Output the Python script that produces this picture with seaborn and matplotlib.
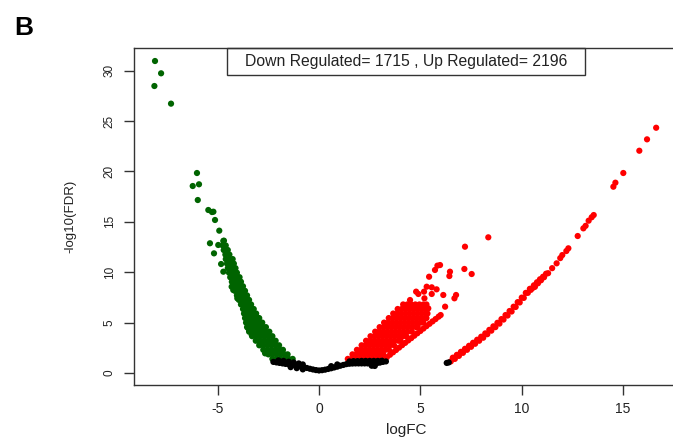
import pandas as pd
import matplotlib.pyplot as plt
import seaborn as sns

# counts shown in the header box
down_count = 1715
up_count = 2196

# --- down regulated (green): dense wedge stored row by row, plus scattered genes
green_rows_y = [13.1, 12.65, 12.2, 11.75, 11.3, 10.85, 10.4, 9.95, 9.5, 9.05, 8.6, 8.15,
                7.7, 7.25, 6.8, 6.35, 5.9, 5.45, 5.0, 4.55, 4.1, 3.65, 3.2, 2.75, 2.3,
                1.85, 1.4]
green_rows_x = [
    [-4.72],
    [-4.75, -4.6],
    [-4.7, -4.5],
    [-4.62, -4.42],
    [-4.6, -4.42, -4.26],
    [-4.54, -4.36, -4.2],
    [-4.5, -4.3, -4.12],
    [-4.44, -4.24, -4.05],
    [-4.38, -4.18, -3.98, -3.92],
    [-4.3, -4.1, -3.9, -3.85],
    [-4.22, -4.02, -3.82, -3.75],
    [-4.15, -3.95, -3.75, -3.65],
    [-4.05, -3.85, -3.65, -3.55],
    [-3.95, -3.75, -3.55, -3.45],
    [-3.85, -3.65, -3.45, -3.35],
    [-3.75, -3.55, -3.35, -3.22],
    [-3.7, -3.5, -3.3, -3.1],
    [-3.65, -3.45, -3.25, -3.05, -2.95],
    [-3.6, -3.4, -3.2, -3.0, -2.8],
    [-3.55, -3.35, -3.15, -2.95, -2.75, -2.62],
    [-3.45, -3.25, -3.05, -2.85, -2.65, -2.45],
    [-3.3, -3.1, -2.9, -2.7, -2.5, -2.3],
    [-3.12, -2.92, -2.72, -2.52, -2.32, -2.14],
    [-2.95, -2.75, -2.55, -2.35, -2.15, -1.97],
    [-2.75, -2.55, -2.35, -2.15, -1.95, -1.78],
    [-2.5, -2.3, -2.1, -1.9, -1.7, -1.55],
    [-2.3, -2.1, -1.9, -1.7, -1.5, -1.3],
]
green_extra_x = [-8.09, -7.79, -8.12, -7.30, -6.02, -6.23, -5.92, -5.98, -5.46, -5.28,
                 -5.21, -5.13, -4.92, -4.69, -5.38, -4.97, -5.18, -4.83, -4.72, -4.31,
                 -4.23, -4.03, -3.81, -3.49, -3.32, -2.66]
green_extra_y = [30.95, 29.73, 28.47, 26.72, 19.84, 18.55, 18.72, 17.16, 16.17, 15.97,
                 16.0, 15.18, 14.12, 13.13, 12.87, 12.7, 11.87, 10.81, 10.05, 8.56,
                 8.23, 7.41, 7.24, 4.43, 3.77, 1.95]

# --- up regulated (red): dense wedge, a lower strand, scattered genes, right band
red_rows_y = [1.4, 1.85, 2.3, 2.75, 3.2, 3.65, 4.1, 4.55, 5.0, 5.45, 5.9, 6.35, 6.8]
red_rows_x = [
    [1.42, 1.62, 1.82, 2.02, 2.22, 2.42, 2.62, 2.82, 2.95],
    [1.65, 1.85, 2.05, 2.25, 2.45, 2.65, 2.85, 3.05, 3.17],
    [1.87, 2.07, 2.27, 2.47, 2.67, 2.87, 3.07, 3.27, 3.45],
    [2.1, 2.3, 2.5, 2.7, 2.9, 3.1, 3.3, 3.5, 3.7],
    [2.32, 2.52, 2.72, 2.92, 3.12, 3.32, 3.52, 3.72, 3.92, 4.02],
    [2.54, 2.74, 2.94, 3.14, 3.34, 3.54, 3.74, 3.94, 4.14, 4.3],
    [2.77, 2.97, 3.17, 3.37, 3.57, 3.77, 3.97, 4.17, 4.37, 4.58],
    [2.99, 3.19, 3.39, 3.59, 3.79, 3.99, 4.19, 4.39, 4.59, 4.79, 4.87],
    [3.21, 3.41, 3.61, 3.81, 4.01, 4.21, 4.41, 4.61, 4.81, 5.01, 5.15],
    [3.44, 3.64, 3.84, 4.04, 4.24, 4.44, 4.64, 4.84, 5.04, 5.24, 5.3],
    [3.66, 3.86, 4.06, 4.26, 4.46, 4.66, 4.86, 5.06, 5.26, 5.35],
    [3.88, 4.08, 4.28, 4.48, 4.68, 4.88, 5.08, 5.28],
    [4.15, 4.35, 4.55, 4.75, 4.95, 5.15, 5.3],
]
red_line_x = [3.2, 3.35, 3.5, 3.65, 3.8, 3.95, 4.1, 4.25, 4.4, 4.55, 4.7, 4.85, 5.0,
              5.15, 5.3, 5.45, 5.6, 5.75, 5.9, 6.0]
red_line_y = [1.34, 1.57, 1.81, 2.05, 2.28, 2.52, 2.76, 2.99, 3.23, 3.46, 3.7, 3.94, 4.17,
              4.41, 4.65, 4.88, 5.12, 5.35, 5.59, 5.75]
red_extra_x = [7.2, 8.35, 5.97, 5.84, 5.72, 6.46, 7.17, 7.53, 6.43, 5.43, 5.31, 5.56,
               5.8, 5.18, 4.79, 4.9, 5.56, 6.13, 6.76, 6.68, 5.2, 4.49, 6.22, 5.39]
red_extra_y = [12.53, 13.46, 10.71, 10.65, 10.22, 10.05, 10.32, 9.82, 9.62, 9.55, 8.56, 8.5,
               8.3, 8.07, 8.07, 7.84, 7.84, 7.74, 7.74, 7.41, 7.41, 7.24, 6.58, 6.41]
red_band_x = [6.5, 6.7, 6.9, 7.1, 7.3, 7.5, 7.7, 7.9, 8.1, 8.3, 8.5, 8.7, 8.9, 9.1,
              9.3, 9.5, 9.7, 9.9, 10.1, 10.3, 10.45, 10.55, 10.65, 10.8, 10.95, 11.1,
              11.3, 11.5, 11.72, 11.9, 12.0, 12.2, 12.3, 12.76, 13.04, 13.15, 13.3,
              13.45, 13.55, 14.52, 14.62, 15.01, 15.8, 16.18, 16.63]
red_band_y = [1.15, 1.4, 1.7, 2.0, 2.3, 2.6, 2.9, 3.2, 3.5, 3.85, 4.2, 4.55, 4.9, 5.3,
              5.7, 6.1, 6.55, 7.0, 7.45, 7.95, 8.25, 8.45, 8.55, 8.9, 9.2, 9.5,
              9.9, 10.4, 10.88, 11.4, 11.7, 12.1, 12.37, 13.59, 14.35, 14.6, 15.11,
              15.45, 15.67, 18.48, 18.88, 19.84, 22.05, 23.18, 24.33]
red_band2_x = [6.6, 6.8, 7.0, 7.2, 7.4, 7.6, 7.8, 8.0, 8.2, 8.4, 8.6, 8.8, 9.0, 9.2,
               9.4, 9.6, 9.8, 10.0, 10.2, 10.4, 10.6, 10.75, 10.9, 11.05, 11.2]
red_band2_y = [1.52, 1.8, 2.1, 2.4, 2.7, 3.0, 3.3, 3.6, 3.93, 4.28, 4.63, 4.98, 5.35, 5.75,
               6.15, 6.58, 7.03, 7.48, 7.95, 8.35, 8.7, 9.0, 9.3, 9.55, 9.85]

# --- not significant (black): the U-shaped bottom, extra strands, band start
black_x = [-2.25, -2.1, -1.95, -1.8, -1.65, -1.5, -1.35, -1.2, -1.05, -0.9, -0.75,
           -0.6, -0.45, -0.3, -0.15, 0.0, 0.15, 0.3, 0.45, 0.6, 0.75, 0.9, 1.05,
           1.2, 1.35, 1.5, 1.65, 1.8, 1.95, 2.1, 2.25, 2.4, 2.55, 2.7, 2.85, 3.0,
           3.15, 3.3]
black_y = [1.1, 1.05, 1.0, 0.95, 0.9, 0.87, 0.83, 0.78, 0.72, 0.65, 0.57,
           0.5, 0.42, 0.35, 0.29, 0.25, 0.28, 0.33, 0.4, 0.47, 0.55, 0.63, 0.72,
           0.8, 0.88, 0.92, 0.94, 0.95, 0.95, 0.95, 0.95, 0.95, 0.93, 0.92, 0.97, 1.03,
           1.1, 1.15]
black_top_x = [1.5, 1.7, 1.9, 2.1, 2.3, 2.5, 2.7, 2.9, 3.1, 2.6, 2.75,
               -2.0, -1.75, -1.5, -1.25, -1.0, -0.8, -1.4, -1.1, -0.8, 0.6, 0.9]
black_top_y = [1.15, 1.18, 1.18, 1.2, 1.2, 1.2, 1.2, 1.2, 1.22, 0.72, 0.7,
               1.25, 1.2, 1.12, 1.05, 0.95, 0.85, 0.58, 0.48, 0.36, 0.68, 0.85]
black_band_x = [6.3, 6.4]
black_band_y = [1.0, 1.05]


def rows_to_frame(rows_y, rows_x, group):
    recs = []
    for y, xs in zip(rows_y, rows_x):
        for x in xs:
            recs.append((x, y, group))
    return pd.DataFrame(recs, columns=['logFC', 'nlogFDR', 'group'])


def pts_to_frame(xs, ys, group):
    return pd.DataFrame({'logFC': xs, 'nlogFDR': ys, 'group': group})


df = pd.concat([
    rows_to_frame(green_rows_y, green_rows_x, 'down'),
    pts_to_frame(green_extra_x, green_extra_y, 'down'),
    rows_to_frame(red_rows_y, red_rows_x, 'up'),
    pts_to_frame(red_line_x, red_line_y, 'up'),
    pts_to_frame(red_extra_x, red_extra_y, 'up'),
    pts_to_frame(red_band_x, red_band_y, 'up'),
    pts_to_frame(red_band2_x, red_band2_y, 'up'),
    pts_to_frame(black_x, black_y, 'ns'),
    pts_to_frame(black_top_x, black_top_y, 'ns'),
    pts_to_frame(black_band_x, black_band_y, 'ns'),
], ignore_index=True)

sns.set_style('ticks')
plt.rcParams['font.family'] = ['Liberation Sans', 'DejaVu Sans']
plt.rcParams['axes.unicode_minus'] = False

fig = plt.figure(figsize=(6.73, 4.40), dpi=100)
ax = fig.add_axes([0.1996, 0.125, 0.8079, 0.7652])

sns.scatterplot(data=df, x='logFC', y='nlogFDR', hue='group',
                palette={'down': '#006400', 'up': '#ff0000', 'ns': 'black'},
                s=20, linewidth=0, legend=False, ax=ax)

ax.set_xlim(-9.11, 17.71)
ax.set_ylim(-1.19, 32.21)
ax.set_xticks([-5, 0, 5, 10, 15])
ax.set_yticks([0, 5, 10, 15, 20, 25, 30])
ax.tick_params(direction='out', length=7, width=1, color='#333333', labelcolor='#222222')
ax.tick_params(axis='x', pad=5, labelsize=10)
ax.tick_params(axis='y', pad=6.5)
for s in ax.spines.values():
    s.set_color('#333333')
    s.set_linewidth(1)

ax.set_yticklabels([str(v) for v in [0, 5, 10, 15, 20, 25, 30]],
                   rotation=90, va='center', fontsize=8.5)

ax.set_xlabel('logFC', fontsize=11, va='center', color='#222222')
ax.xaxis.set_label_coords(0.5, -0.1337)
ax.set_ylabel('-log10(FDR)', fontsize=9.5, va='center', color='#222222')
ax.yaxis.set_label_coords(-0.1183, 0.5)

# header box with the counts
ax.add_patch(plt.Rectangle((0.170, 0.920), 0.659, 0.080, transform=ax.transAxes,
                           fill=False, edgecolor='#333333', linewidth=1, clip_on=False))
ax.text(0.4995, 0.961,
        f'Down Regulated= {down_count} , Up Regulated= {up_count}',
        transform=ax.transAxes, ha='center', va='center', fontsize=11.3, color='#222222')

fig.text(14 / 673, 1 - 35 / 440, 'B', fontsize=19, fontweight='bold',
         ha='left', va='baseline', color='black')

fig.savefig('out.png', dpi=100)
